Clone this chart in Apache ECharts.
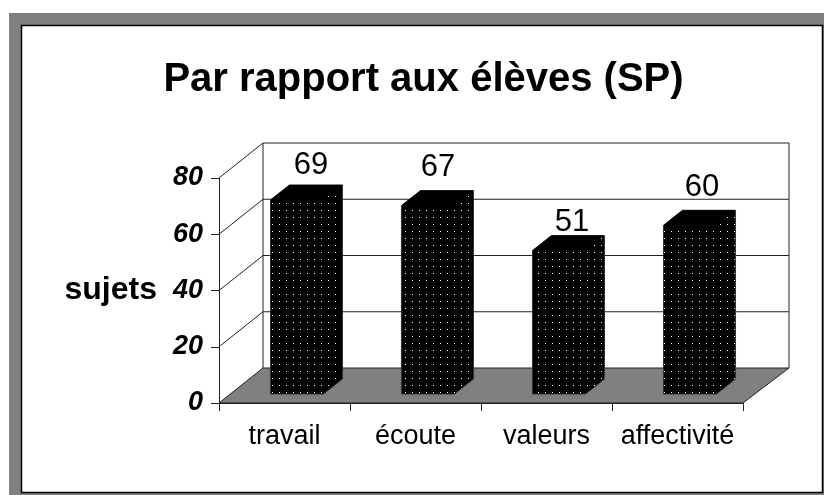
<!DOCTYPE html>
<html>
<head>
<meta charset="utf-8">
<style>html,body{margin:0;padding:0;background:#fff}#c{width:824px;height:495px}</style>
<script src="https://cdn.jsdelivr.net/npm/echarts@6/dist/echarts.min.js"></script>
</head>
<body>
<div id="c"></div>
<script>
const categories = ['travail', 'écoute', 'valeurs', 'affectivité'];
const values = [69, 67, 51, 60];
const yTicks = [0, 20, 40, 60, 80];

const FONT = '"Liberation Sans", Arial, sans-serif';
const DEPTH_X = 44, DEPTH_Y = -35;      // floor depth of the pseudo-3D box
const BAR_DEPTH_X = 19, BAR_DEPTH_Y = -15;
const BAR_OFF_X = 12.5, BAR_OFF_Y = -9;
const BAR_RATIO = 0.405;
const LABEL_SHIFT = [[14, -19], [10, -23], [13, -13], [12, -23]];

function dotted() {
  const c = document.createElement('canvas');
  c.width = 7; c.height = 7;
  const g = c.getContext('2d');
  g.fillStyle = '#000'; g.fillRect(0, 0, 7, 7);
  g.fillStyle = '#fff'; g.fillRect(6, 0, 1, 1);
  return c;
}
const pattern = { image: dotted(), repeat: 'repeat' };

const chart = echarts.init(document.getElementById('c'), null, { renderer: 'canvas' });

const line = (x1, y1, x2, y2, color) => ({
  type: 'line',
  shape: { x1, y1, x2, y2 },
  style: { stroke: color || '#222', lineWidth: 1 }
});

chart.setOption({
  animation: false,
  backgroundColor: '#fff',
  graphic: [
    { type: 'rect', z: -10, shape: { x: 9, y: 13, width: 815, height: 482 }, style: { fill: '#808080' } },
    { type: 'rect', z: -9, shape: { x: 21.5, y: 25.5, width: 801, height: 467 }, style: { fill: '#fff', stroke: '#000', lineWidth: 1.5 } }
  ],
  title: {
    text: 'Par rapport aux élèves (SP)',
    left: 418.5, top: 55, textAlign: 'center',
    textStyle: { fontFamily: FONT, fontSize: 40, fontWeight: 'bold', color: '#000' }
  },
  grid: { left: 219, top: 178, width: 524, height: 225, containLabel: false },
  xAxis: {
    type: 'category',
    data: categories,
    boundaryGap: true,
    axisLine: { show: true, lineStyle: { color: '#222', width: 1 } },
    axisTick: { show: true, length: 8, alignWithLabel: false, interval: 0, lineStyle: { color: '#222' } },
    axisLabel: { fontFamily: FONT, fontSize: 27, color: '#000', margin: 20, interval: 0 }
  },
  yAxis: {
    type: 'value',
    min: 0, max: 80, interval: 20,
    name: 'sujets',
    nameLocation: 'middle',
    nameRotate: 0,
    nameGap: 62,
    nameTextStyle: { fontFamily: FONT, fontSize: 32, fontWeight: 'bold', color: '#000', align: 'right', padding: [8, 0, 0, 0] },
    axisLine: { show: true, lineStyle: { color: '#222', width: 1 } },
    axisTick: { show: true, length: 8, lineStyle: { color: '#222' } },
    axisLabel: { fontFamily: FONT, fontSize: 27, fontWeight: 'bold', fontStyle: 'italic', color: '#000', margin: 16 },
    splitLine: { show: false }
  },
  series: [
    {
      name: 'cadre',
      type: 'custom',
      coordinateSystem: 'cartesian2d',
      data: yTicks.map(v => [0, v]),
      encode: { x: 0, y: 1 },
      z: 1,
      silent: true,
      clip: false,
      renderItem(params, api) {
        const cs = params.coordSys;
        const v = api.value(1);
        const y = api.coord([0, v])[1];
        const x0 = cs.x, x1 = cs.x + cs.width;
        const kids = [];
        if (v === 0) {
          kids.push({
            type: 'polygon',
            shape: { points: [[x0, y], [x0 + DEPTH_X, y + DEPTH_Y], [x1 + DEPTH_X + 2, y + DEPTH_Y], [x1, y]] },
            style: { fill: '#808080', stroke: '#222', lineWidth: 1 }
          });
          const top = api.coord([0, 80])[1];
          kids.push(line(x0 + DEPTH_X, y + DEPTH_Y, x0 + DEPTH_X, top + DEPTH_Y));
          kids.push(line(x1 + DEPTH_X + 2, y + DEPTH_Y, x1 + DEPTH_X + 2, top + DEPTH_Y));
        } else {
          kids.push(line(x0, y, x0 + DEPTH_X, y + DEPTH_Y));
          kids.push(line(x0 + DEPTH_X, y + DEPTH_Y, x1 + DEPTH_X + 2, y + DEPTH_Y));
        }
        return { type: 'group', children: kids };
      }
    },
    {
      name: 'sujets',
      type: 'custom',
      coordinateSystem: 'cartesian2d',
      data: values.map((v, i) => [i, v]),
      encode: { x: 0, y: 1 },
      z: 3,
      clip: false,
      renderItem(params, api) {
        const i = api.value(0), v = api.value(1);
        const base = api.coord([i, 0]);
        const top = api.coord([i, v]);
        const w = api.size([1, 0])[0] * BAR_RATIO;
        const l = base[0] + BAR_OFF_X - w / 2, r = l + w;
        const b = base[1] + BAR_OFF_Y, t = top[1] + BAR_OFF_Y;
        const dx = BAR_DEPTH_X, dy = BAR_DEPTH_Y;
        return {
          type: 'group',
          children: [
            {
              type: 'polygon',
              shape: { points: [[l, t], [l + dx, t + dy], [r + dx, t + dy], [r + dx, b + dy], [r, b], [l, b]] },
              style: { fill: pattern, stroke: '#333', lineWidth: 1 }
            },
            {
              type: 'polygon',
              shape: { points: [[l, t], [l + dx, t + dy], [r + dx, t + dy], [r, t]] },
              style: { fill: '#000' }
            },
            {
              type: 'text',
              style: {
                x: (l + r) / 2 + LABEL_SHIFT[i][0], y: t + dy + LABEL_SHIFT[i][1],
                text: String(v),
                fontFamily: FONT, fontSize: 31, fill: '#000',
                align: 'center', verticalAlign: 'middle'
              }
            }
          ]
        };
      }
    }
  ]
});
</script>
</body>
</html>
